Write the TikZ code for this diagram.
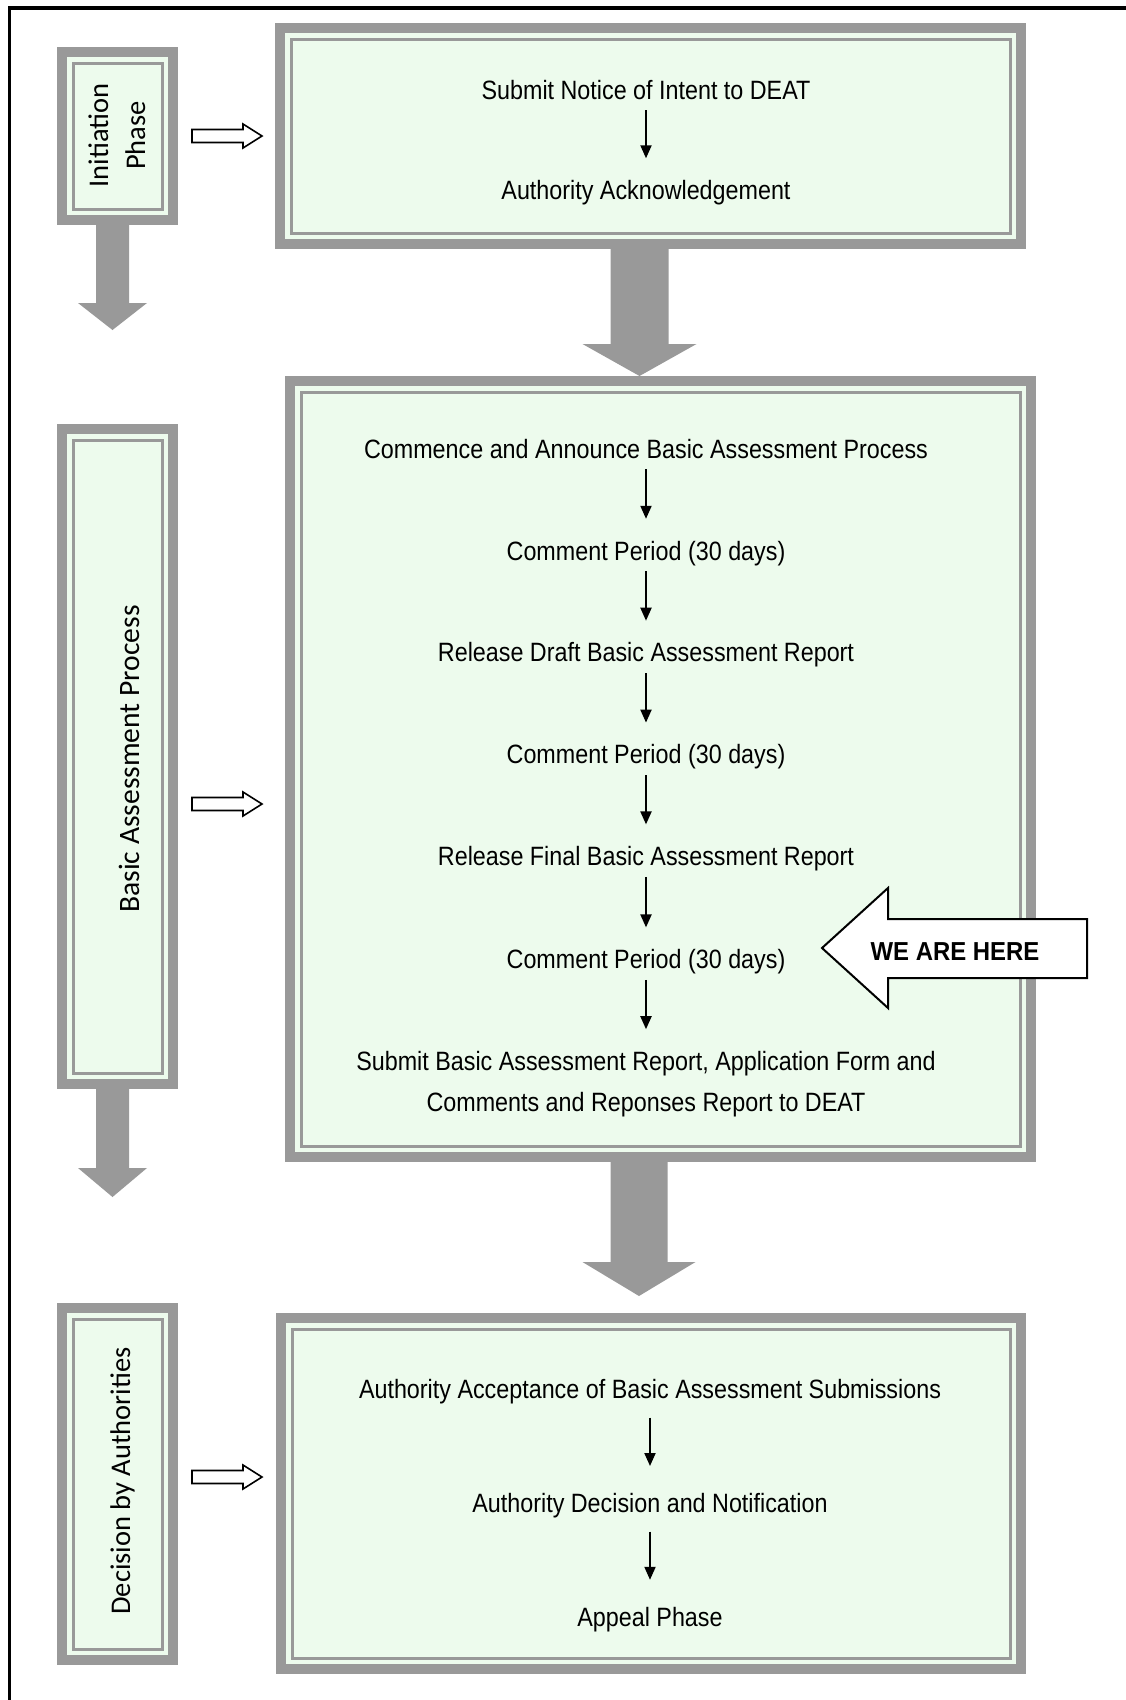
\documentclass[tikz,border=0pt]{standalone}
\usepackage{fontspec}
\setmainfont[FakeStretch=0.88]{Liberation Sans}
\newfontfamily\calibrifont{Carlito}
\newfontfamily\herefont[FakeStretch=0.92]{Liberation Sans}
\usetikzlibrary{arrows.meta,calc}
\definecolor{boxgray}{RGB}{153,153,153}
\definecolor{boxgreen}{RGB}{237,251,237}

\newcommand\grayarrow[6]{% from, to, center x, stem half, head half, head length
  \fill[boxgray] let \p1=(#1), \p2=(#2) in
    ({(#3-#4)*1pt},\y1) -- ({(#3-#4)*1pt},{\y2+#6pt}) -- ({(#3-#5)*1pt},{\y2+#6pt})
    -- ({#3*1pt},\y2) -- ({(#3+#5)*1pt},{\y2+#6pt}) -- ({(#3+#4)*1pt},{\y2+#6pt})
    -- ({(#3+#4)*1pt},\y1) -- cycle;}
\newcommand\hollowarrow[1]{%
  \draw[line width=1.6pt, fill=white, line join=miter] (#1) ++(0,-6.5) -- ++(51,0) -- ++(0,-5.5)
    -- ++(19,12) -- ++(-19,12) -- ++(0,-5.5) -- ++(-51,0) -- cycle;}

\begin{document}
\begin{tikzpicture}[x=1pt,y=-1pt,
  phasebox/.style={rectangle, fill=boxgray, inner sep=0pt, outer sep=0pt,
    path picture={
      \fill[boxgreen] ([shift={(10pt,10pt)}]path picture bounding box.south west)
        rectangle ([shift={(-10pt,-10pt)}]path picture bounding box.north east);
      \draw[boxgray,line width=3pt] ([shift={(16pt,16pt)}]path picture bounding box.south west)
        rectangle ([shift={(-16pt,-16pt)}]path picture bounding box.north east);}},
  steptext/.style={font=\fontsize{26.5}{30}\selectfont, inner sep=0pt, text height=19pt,
    text depth=0pt, anchor=base},
  sidetext/.style={font=\calibrifont\fontsize{28.5}{34}\selectfont, inner sep=0pt,
    anchor=base, rotate=90},
  flow/.style={line width=2pt, -{Triangle[length=13pt,width=11pt]},
    shorten <=11pt, shorten >=22pt},
  flowlow/.style={flow, shorten <=18.7pt, shorten >=27.4pt}
]
\useasboundingbox (0,0) rectangle (1126,1700);
\fill[white] (0,0) rectangle (1126,1700);
% outer frame
\draw[line width=3.5pt] (9.5,1700) -- (9.5,8) -- (1126,8);

% boxes
\node[phasebox, minimum width=121pt, minimum height=178pt] (init) at (117.5,136) {};
\node[phasebox, minimum width=121pt, minimum height=665pt] (basic) at (117.5,756.5) {};
\node[phasebox, minimum width=121pt, minimum height=362pt] (decis) at (117.5,1484) {};
\node[phasebox, minimum width=751pt, minimum height=226pt] (box1) at (650.5,136) {};
\node[phasebox, minimum width=751pt, minimum height=786pt] (box2) at (660.5,769) {};
\node[phasebox, minimum width=750pt, minimum height=361pt] (box3) at (651,1493.5) {};

% gray block arrows
\coordinate (tipA) at (112.5,330);
\coordinate (tipB) at (112.5,1197);
\coordinate (tipC) at (639,1296);
\grayarrow{init.south}{tipA}{112.5}{16.5}{34.5}{27}
\grayarrow{basic.south}{tipB}{112.5}{16.5}{34.5}{29}
\grayarrow{box1.south}{box2.north}{639.5}{29}{57}{32}
\grayarrow{box2.south}{tipC}{639}{28.5}{56.5}{34}

% hollow arrows
\coordinate (hA) at (192,136);
\coordinate (hB) at (192,804);
\coordinate (hC) at (192,1477);
\hollowarrow{hA}
\hollowarrow{hB}
\hollowarrow{hC}

% side labels
\node[sidetext] (l1a) at (108,135.5) {Initiation};
\node[sidetext] (l1b) at (145,135.5) {Phase};
\node[sidetext, font=\calibrifont\fontsize{29.6}{34}\selectfont] (l2) at (139,759) {Basic Assessment Process};
\node[sidetext] (l3) at (130,1481) {Decision by Authorities};

% box 1
\node[steptext] (a1) at (646,99) {Submit Notice of Intent to DEAT};
\node[steptext] (a2) at (646,199.5) {Authority Acknowledgement};
\draw[flow] (a1) -- (a2);

% box 2
\node[steptext] (b1) at (646,458.2) {Commence and Announce Basic Assessment Process};
\node[steptext] (b2) at (646,560) {Comment Period (30 days)};
\node[steptext] (b3) at (646,661.9) {Release Draft Basic Assessment Report};
\node[steptext] (b4) at (646,763.8) {Comment Period (30 days)};
\node[steptext] (b5) at (646,865.6) {Release Final Basic Assessment Report};
\node[steptext] (b6) at (646,968.6) {Comment Period (30 days)};
\node[steptext] (b7) at (646,1070.4) {Submit Basic Assessment Report, Application Form and};
\node[steptext] (b7b) at (646,1111.6) {Comments and Reponses Report to DEAT};
\draw[flow] (b1) -- (b2);
\draw[flow] (b2) -- (b3);
\draw[flow] (b3) -- (b4);
\draw[flow] (b4) -- (b5);
\draw[flow] (b5) -- (b6);
\draw[flow] (b6) -- (b7);

% box 3
\node[steptext] (c1) at (650,1398.8) {Authority Acceptance of Basic Assessment Submissions};
\node[steptext] (c2) at (650,1512.6) {Authority Decision and Notification};
\node[steptext] (c3) at (650,1626.4) {Appeal Phase};
\draw[flowlow] (c1) -- (c2);
\draw[flowlow] (c2) -- (c3);

% we are here
\draw[line width=2pt, fill=white, line join=miter] (822,948) -- (888,888) -- (888,919)
  -- (1087,919) -- (1087,978) -- (888,978) -- (888,1008) -- cycle;
\node[font=\herefont\bfseries\fontsize{26}{30}\selectfont, inner sep=0pt, anchor=base]
  (here) at (955,960.7) {WE ARE HERE};
\end{tikzpicture}
\end{document}
